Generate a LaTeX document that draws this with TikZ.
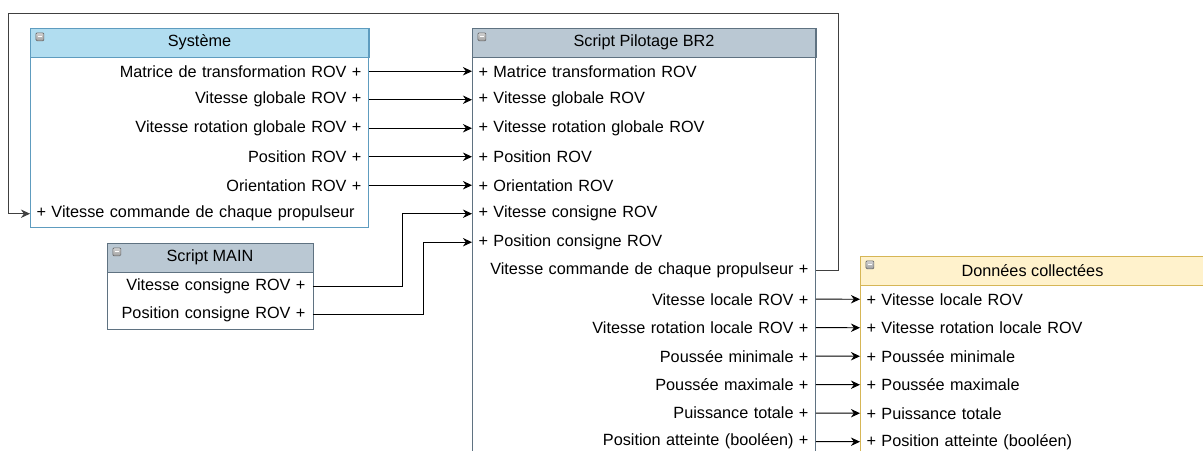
\documentclass[tikz,border=0pt]{standalone}
\usepackage{fontspec}
\setmainfont{Liberation Sans}
\usepackage{xcolor}
\usepackage{tikz}
\usetikzlibrary{arrows.meta, positioning}
\definecolor{sysHead}{HTML}{B1DDF0}
\definecolor{sysLine}{HTML}{5E9CBF}
\definecolor{brHead}{HTML}{BAC8D3}
\definecolor{brLine}{HTML}{5F7281}
\definecolor{dcHead}{HTML}{FFF2CC}
\definecolor{dcLine}{HTML}{D6B656}
\tikzset{
  umlfont/.style={font=\fontsize{9.25}{11}\selectfont},
  umlhead/.style={umlfont, draw, minimum width=#1, minimum height=0.58cm, inner sep=0pt, outer sep=0pt},
  umlrowr/.style={umlfont, text width=#1, align=right, inner xsep=0.15cm, inner ysep=0pt,
                  outer sep=0pt, minimum height=0.57cm},
  umlrowl/.style={umlfont, text width=#1, align=left, inner xsep=0.13cm, inner ysep=0pt,
                  outer sep=0pt, minimum height=0.57cm},
  umlicon/.style={draw=gray!80!black, top color=gray!35, bottom color=gray!75, rounded corners=0.7pt,
                  minimum size=0.16cm, inner sep=0pt, anchor=north west},
  umllink/.style={-{Stealth[length=5.2pt, width=4.8pt, inset=1.7pt]}, line width=0.55pt},
}

\begin{document}
\begin{tikzpicture}[x=0.02cm, y=-0.02cm]
\useasboundingbox (0,0) rectangle (1203,450);
\clip (0,0) rectangle (1203,450);
\fill[white] (0,0) rectangle (1203,450);

% Systeme
\node[umlhead=6.78cm, draw=sysLine, fill=sysHead] (sysh) at (199.5,42.5) {Système};
\node[umlrowr=6.48cm, below=0pt of sysh] (sys1) {Matrice de transformation ROV +};
\node[umlrowr=6.48cm, below=0pt of sys1] (sys2) {Vitesse globale ROV +};
\node[umlrowr=6.48cm, below=0pt of sys2] (sys3) {Vitesse rotation globale ROV +};
\node[umlrowr=6.48cm, below=0pt of sys3] (sys4) {Position ROV +};
\node[umlrowr=6.48cm, below=0pt of sys4] (sys5) {Orientation ROV +};
\node[umlrowl=6.52cm, below=0pt of sys5] (sys6) {+ Vitesse commande de chaque propulseur};
\draw[sysLine, line width=0.55pt] (sysh.north west) rectangle (sys6.south east);
\node[umlicon] (sysicon) at ([shift={(0.11cm,-0.09cm)}]sysh.north west) {\color{white}\rule[0.4pt]{0.08cm}{0.6pt}};

% Script Pilotage BR2
\node[umlhead=6.88cm, draw=brLine, fill=brHead] (brh) at (644,42.5) {Script Pilotage BR2};
\node[umlrowl=6.62cm, below=0pt of brh] (br1) {+ Matrice transformation ROV};
\node[umlrowl=6.62cm, below=0pt of br1] (br2) {+ Vitesse globale ROV};
\node[umlrowl=6.62cm, below=0pt of br2] (br3) {+ Vitesse rotation globale ROV};
\node[umlrowl=6.62cm, below=0pt of br3] (br4) {+ Position ROV};
\node[umlrowl=6.62cm, below=0pt of br4] (br5) {+ Orientation ROV};
\node[umlrowl=6.62cm, below=0pt of br5] (br6) {+ Vitesse consigne ROV};
\node[umlrowl=6.62cm, below=0pt of br6] (br7) {+ Position consigne ROV};
\node[umlrowr=6.58cm, below=0pt of br7] (br8) {Vitesse commande de chaque propulseur +};
\node[umlrowr=6.58cm, below=0pt of br8] (br9) {Vitesse locale ROV +};
\node[umlrowr=6.58cm, below=0pt of br9] (br10) {Vitesse rotation locale ROV +};
\node[umlrowr=6.58cm, below=0pt of br10] (br11) {Poussée minimale +};
\node[umlrowr=6.58cm, below=0pt of br11] (br12) {Poussée maximale +};
\node[umlrowr=6.58cm, below=0pt of br12] (br13) {Puissance totale +};
\node[umlrowr=6.58cm, below=0pt of br13] (br14) {Position atteinte (booléen) +};
\draw[brLine, line width=0.55pt] (brh.north west) rectangle (br14.south east);
\node[umlicon] (bricon) at ([shift={(0.11cm,-0.09cm)}]brh.north west) {\color{white}\rule[0.4pt]{0.08cm}{0.6pt}};

% Script MAIN
\node[umlhead=4.12cm, draw=brLine, fill=brHead] (mainh) at (210,257.5) {Script MAIN};
\node[umlrowr=3.82cm, below=0pt of mainh] (main1) {Vitesse consigne ROV +};
\node[umlrowr=3.82cm, below=0pt of main1] (main2) {Position consigne ROV +};
\draw[brLine, line width=0.55pt] (mainh.north west) rectangle (main2.south east);
\node[umlicon] (mainicon) at ([shift={(0.11cm,-0.09cm)}]mainh.north west) {\color{white}\rule[0.4pt]{0.08cm}{0.6pt}};

% Donnees collectees
\node[umlhead=7cm, draw=dcLine, fill=dcHead] (dch) at (1035,270.5) {\hspace*{-0.1cm}Données collectées};
\node[umlrowl=6.74cm, below=0pt of dch] (dc1) {+ Vitesse locale ROV};
\node[umlrowl=6.74cm, below=0pt of dc1] (dc2) {+ Vitesse rotation locale ROV};
\node[umlrowl=6.74cm, below=0pt of dc2] (dc3) {+ Poussée minimale};
\node[umlrowl=6.74cm, below=0pt of dc3] (dc4) {+ Poussée maximale};
\node[umlrowl=6.74cm, below=0pt of dc4] (dc5) {+ Puissance totale};
\node[umlrowl=6.74cm, below=0pt of dc5] (dc6) {+ Position atteinte (booléen)};
\draw[dcLine, line width=0.55pt] (dch.north west) rectangle (dc6.south east);
\node[umlicon] (dcicon) at ([shift={(0.11cm,-0.09cm)}]dch.north west) {\color{white}\rule[0.4pt]{0.08cm}{0.6pt}};

% liens
\draw[umllink] (sys1.east) -- (br1.west);
\draw[umllink] (sys2.east) -- (br2.west);
\draw[umllink] (sys3.east) -- (br3.west);
\draw[umllink] (sys4.east) -- (br4.west);
\draw[umllink] (sys5.east) -- (br5.west);
\draw[umllink] (main1.east) -- ++(89,0) |- (br6.west);
\draw[umllink] (main2.east) -- ++(110,0) |- (br7.west);
\coordinate (fbtop) at (8,13);
\draw[umllink, black!75] (br8.east) -- ++(23,0) |- (fbtop) |- (sys6.west);
\draw[umllink] (br9.east) -- (dc1.west);
\draw[umllink] (br10.east) -- (dc2.west);
\draw[umllink] (br11.east) -- (dc3.west);
\draw[umllink] (br12.east) -- (dc4.west);
\draw[umllink] (br13.east) -- (dc5.west);
\draw[umllink] (br14.east) -- (dc6.west);
\end{tikzpicture}
\end{document}
